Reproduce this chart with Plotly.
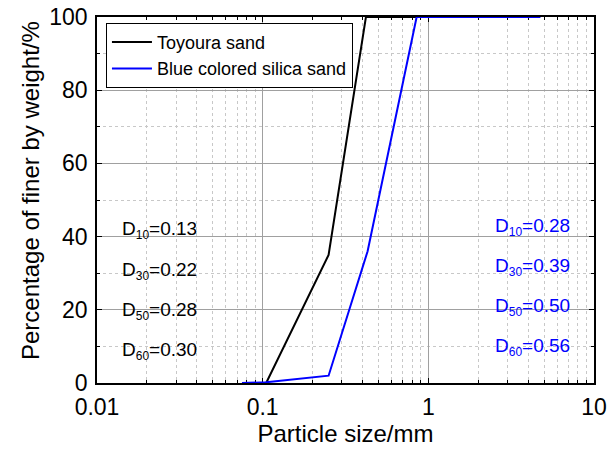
import plotly.graph_objects as go

# Data
toyoura_x = [0.105, 0.25, 0.42, 2.0]
toyoura_y = [0, 35, 100, 100]
blue_x = [0.075, 0.105, 0.25, 0.43, 0.85, 4.75]
blue_y = [0, 0.2, 2, 36, 100, 100]

left_labels = [("10", "0.13"), ("30", "0.22"), ("50", "0.28"), ("60", "0.30")]
left_y = [41.9, 30.6, 19.7, 8.8]
right_labels = [("10", "0.28"), ("30", "0.39"), ("50", "0.50"), ("60", "0.56")]
right_y = [42.6, 31.7, 20.8, 9.8]

FONT = "Liberation Sans, Arial, sans-serif"

fig = go.Figure()
fig.add_trace(go.Scatter(x=toyoura_x, y=toyoura_y, mode="lines", name="Toyoura sand",
                         line=dict(color="black", width=2)))
fig.add_trace(go.Scatter(x=blue_x, y=blue_y, mode="lines", name="Blue colored silica sand",
                         line=dict(color="#0000ff", width=2)))

def dtext(sub, val):
    return f"D<sub><span style='font-size:12px'>{sub}</span></sub>={val}"

annotations = []
for (sub, val), yv in zip(left_labels, left_y):
    annotations.append(dict(x=0.046, xref="paper", y=yv, yref="y", xanchor="left", yanchor="middle",
                            text=dtext(sub, val), showarrow=False,
                            font=dict(family=FONT, size=19, color="black")))
for (sub, val), yv in zip(right_labels, right_y):
    annotations.append(dict(x=0.955, xref="paper", y=yv, yref="y", xanchor="right", yanchor="middle",
                            text=dtext(sub, val), showarrow=False,
                            font=dict(family=FONT, size=19, color="#0000ff")))
# y-axis title (placed as in the reference, slightly above plot centre)
annotations.append(dict(x=-0.135, xref="paper", y=0.527, yref="paper", xanchor="center", yanchor="middle",
                        text="Percentage of finer by weight/%", textangle=-90, showarrow=False,
                        font=dict(family=FONT, size=24, color="black")))

axis_common = dict(
    showline=True, linecolor="black", linewidth=1.5, mirror="allticks",
    ticks="inside", ticklen=5, tickcolor="black", tickwidth=1,
    showgrid=True, gridcolor="#a0a0a0", gridwidth=1,
    zeroline=False, layer="below traces", automargin=False,
    tickfont=dict(family=FONT, size=23, color="black"),
)

fig.update_layout(
    width=607, height=450,
    margin=dict(l=97, r=13, t=17, b=67),
    paper_bgcolor="white", plot_bgcolor="white",
    font=dict(family=FONT, color="black"),
    showlegend=True,
    legend=dict(x=0.018, y=0.984, xanchor="left", yanchor="top",
                bgcolor="white", bordercolor="black", borderwidth=1,
                font=dict(family=FONT, size=18, color="black"),
                itemwidth=40, tracegroupgap=0),
    annotations=annotations,
)
fig.update_xaxes(type="log", range=[-2, 1], dtick=1,
                 tickvals=[0.01, 0.1, 1, 10], ticktext=["0.01", "0.1", "1", "10"],
                 ticklabelstandoff=3,
                 minor=dict(ticks="inside", ticklen=3, tickcolor="black", dtick="D1",
                            showgrid=True, gridcolor="#c8c8c8", griddash="dot", gridwidth=1),
                 title=dict(text="Particle size/mm", font=dict(family=FONT, size=24, color="black"), standoff=4),
                 **axis_common)
fig.update_yaxes(range=[0, 100], dtick=20, tick0=0, ticklabelstandoff=3,
                 minor=dict(ticks="inside", ticklen=3, tickcolor="black", dtick=10,
                            showgrid=True, gridcolor="#c8c8c8", griddash="dot", gridwidth=1),
                 **axis_common)

fig.write_html("out.html")
